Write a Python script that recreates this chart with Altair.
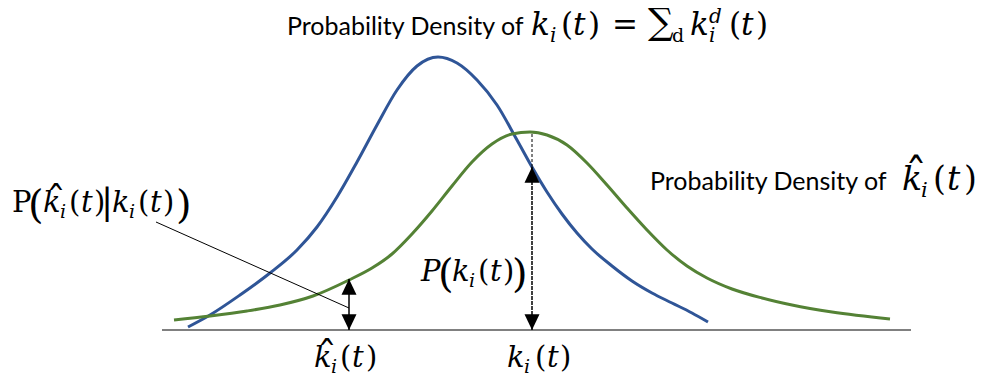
import altair as alt
import pandas as pd

# Density curves (x: value of k, y: density, arbitrary units)
blue_x = [2.6, 4.8, 7.8, 10.8, 13.5, 15.5, 17.5, 19.5, 21.5, 23.5, 25.5, 27.6, 29.5, 31.5,
          33.5, 35.5, 37.0, 38.5, 40.0, 41.5, 43.0, 45.0, 47.0, 49.0, 51.0, 53.0, 54.6]
blue_y = [0.03, 0.15, 0.35, 0.57, 0.80, 1.03, 1.33, 1.68, 2.05, 2.40, 2.64, 2.73, 2.67, 2.50,
          2.25, 1.90, 1.63, 1.38, 1.16, 0.97, 0.81, 0.64, 0.49, 0.37, 0.27, 0.17, 0.08]

green_x = [1.2, 4.8, 8.5, 11.8, 15.1, 18.7, 21.0, 23.0, 25.0, 27.0, 29.0, 31.0, 33.0, 35.0,
           36.8, 38.5, 40.5, 42.5, 44.5, 46.5, 48.5, 50.5, 52.5, 54.5, 57.0, 60.0, 63.0, 67.0, 72.8]
green_y = [0.10, 0.14, 0.19, 0.25, 0.34, 0.50, 0.62, 0.76, 0.96, 1.19, 1.44, 1.68, 1.86, 1.96,
           1.98, 1.95, 1.85, 1.67, 1.45, 1.22, 1.00, 0.80, 0.64, 0.52, 0.41, 0.32, 0.25, 0.18, 0.11]

# Horizontal axis extent
axis_x = [0.0, 74.9]

# Marked positions on the axis: k-hat and k, with the density each arrow reaches
k_hat = 18.7
k_hat_density = 0.51       # green density at k-hat
k_true = 37.0
k_true_density = 1.63      # blue density at k
k_peak_density = 1.98      # green peak above k

# Leader line from the conditional-probability label to the k-hat arrow
leader_x = [-0.6, 18.7]
leader_y = [1.08, 0.22]

# Text pieces: (text, x, y, size)
sans_pieces = [
    ("Probability Density of", 12.5, 2.95, 25),
    ("Probability Density of", 48.8, 1.40, 25),
]
italic_pieces = [
    # title
    ("k", 36.9, 2.95, 31), ("i", 38.8, 2.88, 20), ("t", 41.1, 2.95, 31),
    ("k", 52.8, 2.95, 31), ("d", 54.7, 3.07, 20), ("i", 54.7, 2.88, 20), ("t", 57.9, 2.95, 31),
    # right label
    ("k", 74.0, 1.40, 33), ("i", 75.9, 1.33, 21), ("t", 78.5, 1.40, 33),
    # axis labels
    ("k", 15.2, -0.37, 29), ("i", 16.9, -0.43, 19), ("t", 19.0, -0.37, 29),
    ("k", 34.5, -0.37, 29), ("i", 36.2, -0.43, 19), ("t", 38.5, -0.37, 29),
    # P(k_i(t))
    ("P", 25.9, 0.49, 29), ("k", 29.0, 0.49, 29), ("i", 30.7, 0.43, 19), ("t", 32.8, 0.49, 29),
    # P(k-hat | k)
    ("k", -11.9, 1.18, 29), ("i", -10.2, 1.12, 19), ("t", -8.1, 1.18, 29),
    ("k", -5.0, 1.18, 29), ("i", -3.3, 1.12, 19), ("t", -1.2, 1.18, 29),
]
upright_pieces = [
    # title
    ("(", 39.9, 2.95, 31), (")", 42.6, 2.95, 31), ("=", 45.0, 2.95, 31),
    ("∑", 48.6, 2.96, 36), ("d", 51.0, 2.88, 19), ("(", 56.7, 2.95, 31), (")", 59.4, 2.95, 31),
    # right label
    ("(", 77.1, 1.40, 33), (")", 80.2, 1.40, 33),
    # axis labels
    ("(", 17.8, -0.37, 29), (")", 20.4, -0.37, 29),
    ("(", 37.3, -0.37, 29), (")", 39.8, -0.37, 29),
    # P(k_i(t))
    ("(", 27.6, 0.43, 40), ("(", 31.6, 0.49, 29), (")", 34.1, 0.49, 29), (")", 35.0, 0.43, 40),
    # P(k-hat | k)
    ("P", -15.0, 1.18, 29), ("(", -13.4, 1.12, 40),
    ("(", -9.3, 1.18, 29), (")", -6.8, 1.18, 29), ("|", -6.1, 1.16, 36),
    ("(", -2.4, 1.18, 29), (")", 0.1, 1.18, 29), (")", 1.4, 1.12, 40),
]
# Circumflex accents over k-hat (centred on the letter)
hat_pieces = [
    ("ˆ", 75.4, 1.39, 44),
    ("ˆ", 16.5, -0.39, 40),
    ("ˆ", -10.6, 1.16, 40),
]

X = alt.Scale(domain=[-16.2, 82.8])
Y = alt.Scale(domain=[-0.46, 3.30])


def xenc(field):
    return alt.X(f"{field}:Q", scale=X, axis=None)


def yenc(field):
    return alt.Y(f"{field}:Q", scale=Y, axis=None)


def pieces_df(pieces):
    return pd.DataFrame(pieces, columns=["txt", "x", "y", "size"])


curves = pd.concat([
    pd.DataFrame({"x": blue_x, "y": blue_y, "series": "observed"}),
    pd.DataFrame({"x": green_x, "y": green_y, "series": "estimated"}),
])

curve_layer = alt.Chart(curves).mark_line(interpolate="monotone", strokeWidth=3).encode(
    x=xenc("x"), y=yenc("y"),
    detail="series:N",
    color=alt.Color("series:N", scale=alt.Scale(domain=["observed", "estimated"],
                                                range=["#2F5597", "#548235"]), legend=None),
)

axis_layer = alt.Chart(pd.DataFrame({"x": [axis_x[0]], "x2": [axis_x[1]], "y": [0.0]})).mark_rule(
    color="#808080", strokeWidth=2
).encode(x=xenc("x"), x2="x2:Q", y=yenc("y"))

stem_hat = alt.Chart(pd.DataFrame({"x": [k_hat], "y": [0.0], "y2": [k_hat_density]})).mark_rule(
    color="black", strokeWidth=1.5).encode(x=xenc("x"), y=yenc("y"), y2="y2:Q")
stem_true = alt.Chart(pd.DataFrame({"x": [k_true], "y": [0.0], "y2": [k_true_density]})).mark_rule(
    color="black", strokeWidth=1.5, strokeDash=[4, 1]).encode(x=xenc("x"), y=yenc("y"), y2="y2:Q")

peak_link = alt.Chart(pd.DataFrame({"x": [k_true], "y": [k_true_density], "y2": [k_peak_density]})).mark_rule(
    color="black", strokeWidth=1, strokeDash=[3, 2]).encode(x=xenc("x"), y=yenc("y"), y2="y2:Q")

leader = alt.Chart(pd.DataFrame({"x": [leader_x[0]], "y": [leader_y[0]],
                                 "x2": [leader_x[1]], "y2": [leader_y[1]]})).mark_rule(
    color="black", strokeWidth=1).encode(x=xenc("x"), y=yenc("y"), x2="x2:Q", y2="y2:Q")

heads_up = alt.Chart(pd.DataFrame({"x": [k_hat, k_true], "y": [k_hat_density, k_true_density]})).mark_point(
    shape="M0,0L-1,2.1L1,2.1Z", filled=True, color="black", opacity=1, size=225, strokeWidth=0
).encode(x=xenc("x"), y=yenc("y"))
heads_down = alt.Chart(pd.DataFrame({"x": [k_hat, k_true], "y": [0.0, 0.0]})).mark_point(
    shape="M0,0L-1,-2.1L1,-2.1Z", filled=True, color="black", opacity=1, size=225, strokeWidth=0
).encode(x=xenc("x"), y=yenc("y"))


def text_layer(pieces, font, style, align="left"):
    return alt.Chart(pieces_df(pieces)).mark_text(
        font=font, fontStyle=style, align=align, baseline="alphabetic", color="black"
    ).encode(x=xenc("x"), y=yenc("y"), text="txt:N", size=alt.Size("size:Q", scale=None))


sans_text = text_layer(sans_pieces, "Lato", "normal")
italic_text = text_layer(italic_pieces, "DejaVu Serif", "italic")
upright_text = text_layer(upright_pieces, "DejaVu Serif", "normal")
hat_text = text_layer(hat_pieces, "DejaVu Serif", "normal", align="center")

chart = alt.layer(
    axis_layer, curve_layer, leader, peak_link, stem_hat, stem_true, heads_up, heads_down,
    sans_text, italic_text, upright_text, hat_text,
).properties(
    width=990, height=376, padding=0, background="white",
    autosize=alt.AutoSizeParams(type="none"),
).configure_view(stroke=None)

chart.save("out.html", embed_options={"renderer": "svg", "actions": False})
